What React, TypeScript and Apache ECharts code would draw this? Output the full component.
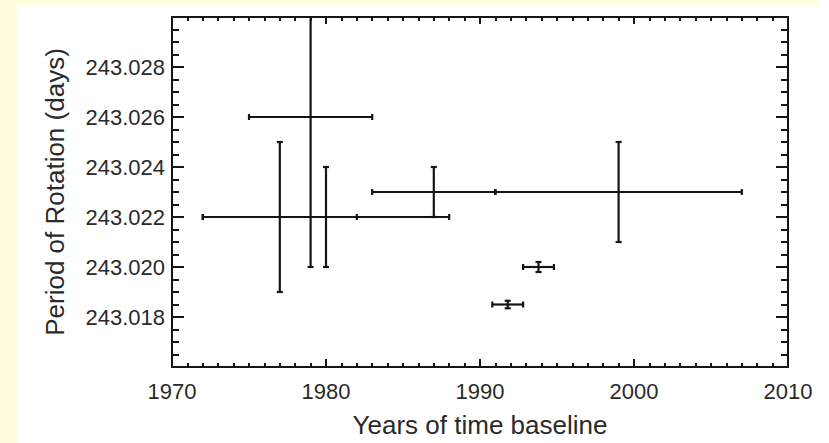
import React, { useEffect, useRef } from "react";
import * as echarts from "echarts";

// Measurements: epoch (year), rotation period (days), and their half-errors
const years = [1979, 1977, 1980, 1987, 1999, 1993.8, 1991.8];
const periods = [243.026, 243.022, 243.022, 243.023, 243.023, 243.02, 243.0185];
const yearErrors = [4, 5, 8, 4, 8, 1.0, 1.0];
const periodErrors = [0.006, 0.003, 0.002, 0.001, 0.002, 0.0002, 0.00015];

const xTicks = [1970, 1980, 1990, 2000, 2010];
const yTicks = [243.018, 243.02, 243.022, 243.024, 243.026, 243.028];

const INK = "#141414";
const TEXT = "#2a2a2a";
const YELLOW = "#fffddc";
const FONT = "'Liberation Sans', Arial, Helvetica, sans-serif";

export default function App() {
  const ref = useRef<HTMLDivElement>(null);

  useEffect(() => {
    if (!ref.current) return;
    const chart = echarts.init(ref.current, null, { renderer: "svg" });
    const data = years.map((y, i) => [y, periods[i], yearErrors[i], periodErrors[i]]);

    const cap = 3;
    const lineStyle = { stroke: INK, lineWidth: 2.2 };

    const renderItem = (params: any, api: any) => {
      const x = api.value(0);
      const y = api.value(1);
      const dx = api.value(2);
      const dy = api.value(3);
      const c = api.coord([x, y]);
      const left = api.coord([x - dx, y]);
      const right = api.coord([x + dx, y]);
      const top = api.coord([x, y + dy]);
      const bottom = api.coord([x, y - dy]);
      const children: any[] = [];
      if (dx > 0) {
        children.push({ type: "line", shape: { x1: left[0], y1: c[1], x2: right[0], y2: c[1] }, style: lineStyle });
        children.push({ type: "line", shape: { x1: left[0], y1: c[1] - cap, x2: left[0], y2: c[1] + cap }, style: lineStyle });
        children.push({ type: "line", shape: { x1: right[0], y1: c[1] - cap, x2: right[0], y2: c[1] + cap }, style: lineStyle });
      }
      if (dy > 0) {
        children.push({ type: "line", shape: { x1: c[0], y1: top[1], x2: c[0], y2: bottom[1] }, style: lineStyle });
        children.push({ type: "line", shape: { x1: c[0] - cap, y1: top[1], x2: c[0] + cap, y2: top[1] }, style: lineStyle });
        children.push({ type: "line", shape: { x1: c[0] - cap, y1: bottom[1], x2: c[0] + cap, y2: bottom[1] }, style: lineStyle });
      }
      return { type: "group", children };
    };

    const axisLine = { show: true, lineStyle: { color: INK, width: 2 } };
    const label = { color: TEXT, fontSize: 22, fontFamily: FONT };

    const xBase = {
      type: "value",
      min: 1970,
      max: 2010,
      interval: 10,
      splitLine: { show: false },
      axisLine,
    };
    const yBase = {
      type: "value",
      min: 243.016,
      max: 243.03,
      interval: 0.002,
      splitLine: { show: false },
      axisLine,
    };

    chart.setOption({
      animation: false,
      backgroundColor: "#ffffff",
      graphic: [
        {
          type: "rect",
          z: -10,
          silent: true,
          shape: { x: 0, y: 0, width: 17, height: 443 },
          style: { fill: YELLOW },
        },
        {
          type: "rect",
          z: -10,
          silent: true,
          shape: { x: 0, y: 0, width: 819, height: 5 },
          style: { fill: YELLOW },
        },
      ],
      grid: { left: 172, right: 41, top: 17, bottom: 70, containLabel: false },
      xAxis: [
        {
          ...xBase,
          position: "bottom",
          axisTick: { show: true, inside: true, length: 8, lineStyle: { color: INK, width: 2 } },
          minorTick: { show: true, splitNumber: 10, length: 4, lineStyle: { color: INK, width: 2 } },
          axisLabel: {
            ...label,
            margin: 13,
            formatter: (v: number) => (xTicks.includes(v) ? String(v) : ""),
          },
          name: "Years of time baseline",
          nameLocation: "middle",
          nameGap: 45,
          nameTextStyle: { color: TEXT, fontSize: 26, fontFamily: FONT },
        },
        {
          ...xBase,
          position: "top",
          axisTick: { show: true, inside: true, length: 7, lineStyle: { color: INK, width: 2 } },
          minorTick: { show: true, splitNumber: 10, length: 4, lineStyle: { color: INK, width: 2 } },
          axisLabel: { show: false },
        },
      ],
      yAxis: [
        {
          ...yBase,
          position: "left",
          axisTick: { show: true, inside: true, length: 12, lineStyle: { color: INK, width: 2 } },
          minorTick: { show: true, splitNumber: 4, length: 7, lineStyle: { color: INK, width: 2 } },
          axisLabel: {
            ...label,
            margin: 7,
            formatter: (v: number) => {
              const s = v.toFixed(3);
              return yTicks.some((t) => Math.abs(t - v) < 1e-7) ? s : "";
            },
          },
          name: "Period of Rotation (days)",
          nameLocation: "middle",
          nameGap: 104,
          nameTextStyle: { color: TEXT, fontSize: 26, fontFamily: FONT },
        },
        {
          ...yBase,
          position: "right",
          axisTick: { show: true, inside: true, length: 12, lineStyle: { color: INK, width: 2 } },
          minorTick: { show: true, splitNumber: 4, length: 7, lineStyle: { color: INK, width: 2 } },
          axisLabel: { show: false },
        },
      ],
      series: [
        {
          type: "custom",
          xAxisIndex: 0,
          yAxisIndex: 0,
          clip: true,
          renderItem,
          encode: { x: 0, y: 1 },
          data,
        },
      ],
    });

    return () => chart.dispose();
  }, []);

  return (
    <div
      ref={ref}
      style={{ position: "fixed", left: 0, top: 0, width: 829, height: 443 }}
    />
  );
}
